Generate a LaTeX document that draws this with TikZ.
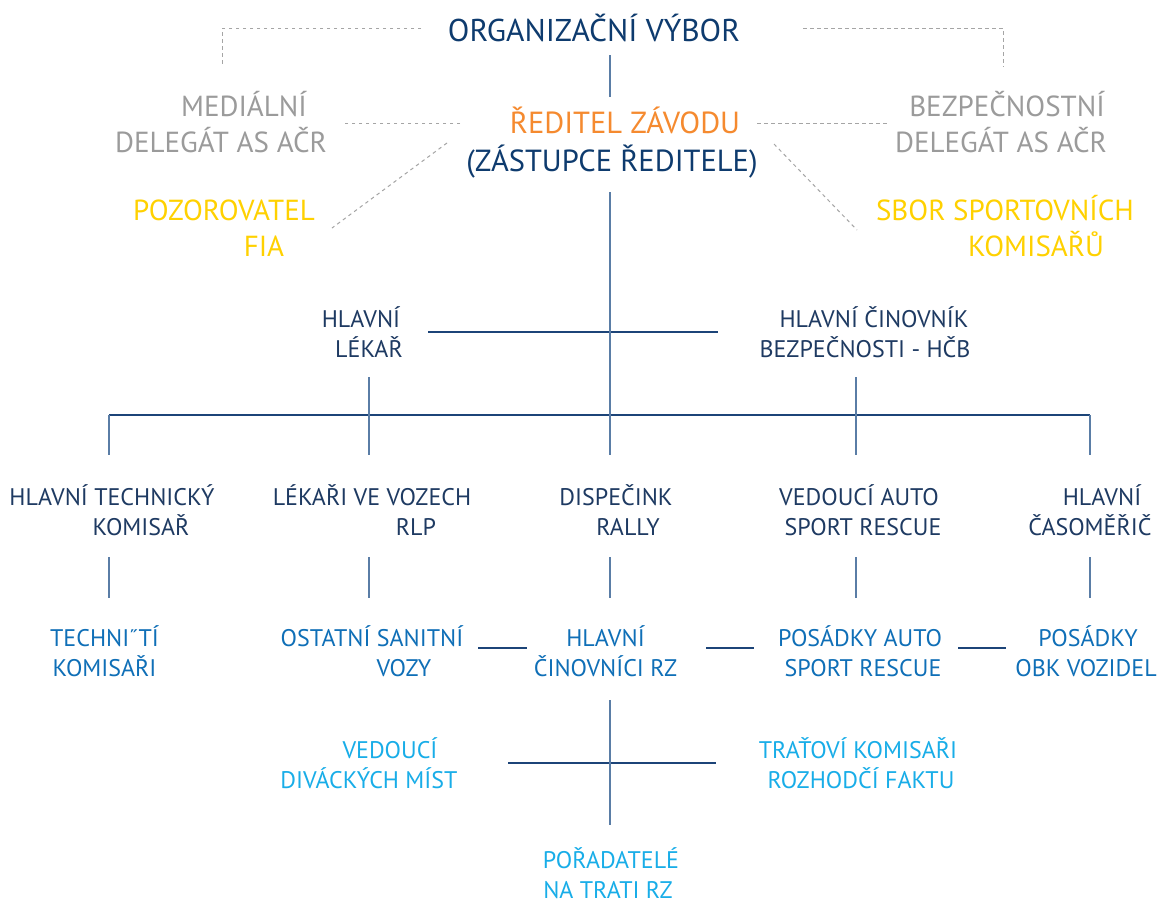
\documentclass[tikz,border=0pt]{standalone}
\usepackage{fontspec}
\setmainfont{PT Sans}
\definecolor{titlenavy}{HTML}{0E3B6E}
\definecolor{navy}{HTML}{1E3A62}
\definecolor{grayt}{HTML}{9B9B9B}
\definecolor{oranget}{HTML}{F58A2F}
\definecolor{yellowt}{HTML}{FFD100}
\definecolor{midblue}{HTML}{0F6FB7}
\definecolor{lightblue}{HTML}{18ADE8}
\definecolor{vlinec}{HTML}{5A7DA6}
\definecolor{hlinec}{HTML}{1C4478}
\definecolor{dashc}{HTML}{A5A5A5}
\newcommand{\Ln}[2]{\makebox[0pt]{\hspace*{#1}\rule[-0.26em]{0pt}{1.22em}#2}}
\newcommand{\LnZ}[2]{\makebox[0pt]{\hspace*{#1}\rule{0pt}{0.96em}#2}}
\tikzset{
  txt/.style={inner sep=0pt, outer sep=0pt, align=center},
  big/.style={txt, font=\fontsize{29}{36}\selectfont},
  ttl/.style={txt, font=\fontsize{31.5}{38}\selectfont},
  mid/.style={txt, font=\fontsize{30.5}{36}\selectfont},
  sml/.style={txt, font=\fontsize{24}{30.5}\selectfont},
  smt/.style={txt, font=\fontsize{24}{29.5}\selectfont},
  vl/.style={draw=vlinec, line width=1.5pt},
  hl/.style={draw=hlinec, line width=1.5pt},
  dsh/.style={draw=dashc, line width=1pt, dash pattern=on 3.5pt off 3.5pt},
}
\begin{document}
\begin{tikzpicture}[x=1pt,y=-1pt]
\useasboundingbox (0,0) rectangle (1159,906);
\fill[white] (0,0) rectangle (1159,906);

% ---- texts ----
\node[ttl, text=titlenavy] (title) at (594,30) {\Ln{0pt}{ORGANIZAČNÍ VÝBOR}};
\node[big, text=grayt] (medial) at (232,124) {\Ln{24pt}{MEDIÁLNÍ}\\\Ln{-22pt}{DELEGÁT AS AČR}};
\node[mid] (reditel) at (618,142) {\Ln{14pt}{\color{oranget}ŘEDITEL ZÁVODU}\\\Ln{-12pt}{\color{titlenavy}(ZÁSTUPCE ŘEDITELE)}};
\node[big, text=grayt] (bezp) at (1004,124) {\Ln{6pt}{BEZPEČNOSTNÍ}\\\Ln{-6pt}{DELEGÁT AS AČR}};
\node[big, text=yellowt] (pozor) at (244,228) {\Ln{-40pt}{POZOROVATEL}\\\Ln{40pt}{FIA}};
\node[big, text=yellowt] (sbor) at (1020,228) {\Ln{-30pt}{SBOR SPORTOVNÍCH}\\\Ln{32pt}{KOMISAŘŮ}};

\node[sml, text=navy] (lekar) at (365,334) {\Ln{-8pt}{HLAVNÍ}\\\Ln{8pt}{LÉKAŘ}};
\node[sml, text=navy] (hcb) at (870,334) {\Ln{8pt}{HLAVNÍ ČINOVNÍK}\\\Ln{-10pt}{BEZPEČNOSTI - HČB}};

\node[sml, text=navy] (htk) at (126,512) {\Ln{-28pt}{HLAVNÍ TECHNICKÝ}\\\Ln{30pt}{KOMISAŘ}};
\node[sml, text=navy] (lvv) at (394,512) {\Ln{-44pt}{LÉKAŘI VE VOZECH}\\\Ln{44pt}{RLP}};
\node[sml, text=navy] (disp) at (622,512) {\Ln{-12pt}{DISPEČINK}\\\Ln{12pt}{RALLY}};
\node[sml, text=navy] (vasr) at (861,512) {\Ln{-4pt}{VEDOUCÍ AUTO}\\\Ln{4pt}{SPORT RESCUE}};
\node[sml, text=navy] (hcas) at (1096,512) {\Ln{12pt}{HLAVNÍ}\\\Ln{-12pt}{ČASOMĚŘIČ}};

\node[sml, text=midblue] (tk) at (104.5,653) {\Ln{0pt}{TECHNI˝TÍ}\\\Ln{0pt}{KOMISAŘI}};
\node[sml, text=midblue] (osv) at (388,653) {\Ln{-32pt}{OSTATNÍ SANITNÍ}\\\Ln{32pt}{VOZY}};
\node[sml, text=midblue] (hcrz) at (605.5,653) {\Ln{0pt}{HLAVNÍ}\\\Ln{0pt}{ČINOVNÍCI RZ}};
\node[sml, text=midblue] (pasr) at (861.5,653) {\Ln{-3pt}{POSÁDKY AUTO}\\\Ln{3pt}{SPORT RESCUE}};
\node[sml, text=midblue] (pobk) at (1087,653) {\Ln{2pt}{POSÁDKY}\\\Ln{-2pt}{OBK VOZIDEL}};

\node[sml, text=lightblue] (vdm) at (379.5,765) {\Ln{21pt}{VEDOUCÍ}\\\Ln{-21pt}{DIVÁCKÝCH MÍST}};
\node[sml, text=lightblue] (tkrf) at (859.5,765) {\Ln{-3pt}{TRAŤOVÍ KOMISAŘI}\\\Ln{3pt}{ROZHODČÍ FAKTU}};
\node[smt, text=lightblue] (pnt) at (609.5,872) {\Ln{3pt}{POŘADATELÉ}\\\LnZ{-3pt}{NA TRATI RZ}};

% ---- coordinates ----
\coordinate (dtl) at (421,28);  \coordinate (dcl) at (222,28);  \coordinate (dml) at (222,67);
\coordinate (dtr) at (803,28);  \coordinate (dcr) at (1003,28); \coordinate (dmr) at (1003,67);
\coordinate (mdl1) at (460,123); \coordinate (mdl2) at (345,123);
\coordinate (mdr1) at (757,123); \coordinate (mdr2) at (888,123);
\coordinate (dgl1) at (447,143); \coordinate (dgl2) at (332,228);
\coordinate (dgr1) at (774,144); \coordinate (dgr2) at (857,230);

\coordinate (t1) at (610,55);  \coordinate (t2) at (610,97);
\coordinate (r1) at (610,192); \coordinate (r2) at (610,455);
\coordinate (c1) at (428,332); \coordinate (c2) at (718,332);
\coordinate (lk1) at (369,377); \coordinate (lk2) at (369,455);
\coordinate (hb1) at (856,377); \coordinate (hb2) at (856,455);
\coordinate (bar1) at (109,415); \coordinate (bar2) at (1090,415);
\coordinate (bl) at (109,455); \coordinate (br) at (1090,455);

\coordinate (u1) at (109,557); \coordinate (w1) at (109,598);
\coordinate (u2) at (369,557); \coordinate (w2) at (369,598);
\coordinate (u3) at (610,557); \coordinate (w3) at (610,598);
\coordinate (u4) at (856,557); \coordinate (w4) at (856,598);
\coordinate (u5) at (1090,557); \coordinate (w5) at (1090,598);

\coordinate (s1a) at (478,648); \coordinate (s1b) at (527,648);
\coordinate (s2a) at (706,648); \coordinate (s2b) at (754,648);
\coordinate (s3a) at (958,648); \coordinate (s3b) at (1006,648);

\coordinate (p1) at (610,700); \coordinate (p2) at (610,825);
\coordinate (q1) at (508,763); \coordinate (q2) at (716,763);

% ---- dashed connectors ----
\draw[dsh] (dtl) -- (dcl) -- (dml);
\draw[dsh] (dtr) -- (dcr) -- (dmr);
\draw[dsh] (mdl1) -- (mdl2);
\draw[dsh] (mdr1) -- (mdr2);
\draw[dsh] (dgl1) -- (dgl2);
\draw[dsh] (dgr1) -- (dgr2);

% ---- solid connectors ----
\draw[vl] (t1) -- (t2);
\draw[hl] (c1) -- (c2);
\draw[hl] (bar1) -- (bar2);
\draw[vl] (r1) -- (r2);
\draw[vl] (lk1) -- (lk2);
\draw[vl] (hb1) -- (hb2);
\draw[vl] (bar1) -- (bl);
\draw[vl] (bar2) -- (br);
\draw[vl] (u1) -- (w1);
\draw[vl] (u2) -- (w2);
\draw[vl] (u3) -- (w3);
\draw[vl] (u4) -- (w4);
\draw[vl] (u5) -- (w5);
\draw[hl] (s1a) -- (s1b);
\draw[hl] (s2a) -- (s2b);
\draw[hl] (s3a) -- (s3b);
\draw[hl] (q1) -- (q2);
\draw[vl] (p1) -- (p2);
\end{tikzpicture}
\end{document}
